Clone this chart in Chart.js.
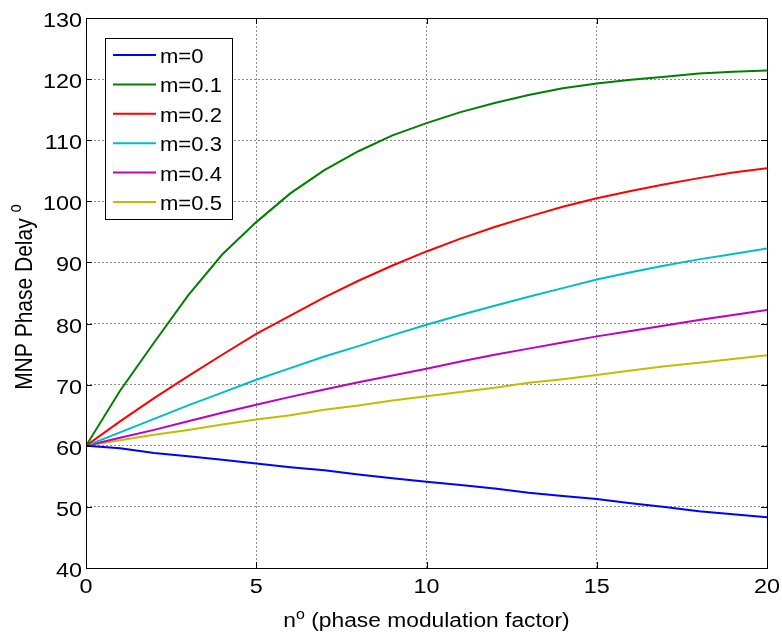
<!DOCTYPE html>
<html>
<head>
<meta charset="utf-8">
<script src="https://cdn.jsdelivr.net/npm/chart.js@4.4.1/dist/chart.umd.min.js"></script>
<style>
  html, body { margin: 0; padding: 0; background: #fff; }
  #wrap { width: 782px; height: 637px; }
</style>
</head>
<body>
<div id="wrap"><canvas id="phaseChart" width="782" height="637"></canvas></div>
<script>
// Atraso de fase MNP em função do fator de modulação n, para vários m
const nValues = [0, 1, 2, 3, 4, 5, 6, 7, 8, 9, 10, 11, 12, 13, 14, 15, 16, 17, 18, 19, 20];

const m00 = [60, 59.6, 58.8, 58.3, 57.7, 57.1, 56.5, 56.0, 55.3, 54.7, 54.1, 53.6, 53.0, 52.3, 51.8, 51.3, 50.6, 50.0, 49.3, 48.8, 48.3];
const m01 = [60, 69.0, 76.9, 84.6, 91.3, 96.6, 101.3, 105.1, 108.2, 110.8, 112.8, 114.6, 116.1, 117.4, 118.5, 119.3, 119.9, 120.4, 120.9, 121.2, 121.4];
const m02 = [60, 64.0, 67.8, 71.4, 74.9, 78.3, 81.3, 84.3, 87.0, 89.5, 91.8, 93.9, 95.8, 97.5, 99.1, 100.5, 101.7, 102.8, 103.8, 104.7, 105.4];
const m03 = [60, 62.2, 64.4, 66.6, 68.7, 70.8, 72.7, 74.6, 76.3, 78.1, 79.8, 81.4, 82.9, 84.4, 85.8, 87.2, 88.4, 89.5, 90.5, 91.4, 92.3];
const m04 = [60, 61.3, 62.6, 64.0, 65.4, 66.7, 68.0, 69.2, 70.4, 71.5, 72.6, 73.8, 74.9, 75.9, 76.9, 77.9, 78.8, 79.7, 80.6, 81.4, 82.2];
const m05 = [60, 60.9, 61.8, 62.6, 63.5, 64.3, 65.0, 65.9, 66.6, 67.4, 68.1, 68.8, 69.5, 70.3, 70.9, 71.6, 72.3, 73.0, 73.6, 74.2, 74.8];

const seriesLabels = ['m=0', 'm=0.1', 'm=0.2', 'm=0.3', 'm=0.4', 'm=0.5'];
const seriesValues = [m00, m01, m02, m03, m04, m05];
const seriesColors = ['#0000ff', '#008000', '#ff0000', '#00bfbf', '#bf00bf', '#bfbf00'];

const xTicks = [0, 5, 10, 15, 20];
const yTicks = [40, 50, 60, 70, 80, 90, 100, 110, 120, 130];

const FONT = 'Liberation Sans, Arial, sans-serif';

// texto com esticamento horizontal (a fonte da figura é mais larga que a Arial)
function wideText(ctx, str, x, y, size, stretch, align) {
  ctx.save();
  ctx.font = size + 'px ' + FONT;
  const w = ctx.measureText(str).width * stretch;
  let x0 = x;
  if (align === 'right') x0 = x - w;
  else if (align === 'center') x0 = x - w / 2;
  ctx.translate(x0, y);
  ctx.scale(stretch, 1);
  ctx.textAlign = 'left';
  ctx.fillText(str, 0, 0);
  ctx.restore();
  return w;
}

// partes de texto com sobrescrito, centradas em cx
function drawParts(ctx, parts, cx, baseline, stretch) {
  let total = 0;
  parts.forEach(p => { ctx.font = p[1] + 'px ' + FONT; total += ctx.measureText(p[0]).width * stretch; });
  let x = cx - total / 2;
  parts.forEach(p => {
    x += wideText(ctx, p[0], x, baseline + p[2], p[1], stretch, 'left');
  });
}

// moldura preta, marcas internas, rótulos, títulos dos eixos e legenda
const matlabAxes = {
  id: 'matlabAxes',
  afterDraw(chart) {
    const ctx = chart.ctx;
    const a = chart.chartArea;
    const xs = chart.scales.x, ys = chart.scales.y;
    ctx.save();
    ctx.strokeStyle = '#000';
    ctx.lineWidth = 1;
    ctx.setLineDash([]);
    ctx.strokeRect(Math.round(a.left) + 0.5, Math.round(a.top) + 0.5,
      Math.round(a.right - a.left), Math.round(a.bottom - a.top));

    // marcas dos ticks para dentro, nos quatro lados
    ctx.beginPath();
    xTicks.forEach(v => {
      const px = Math.round(xs.getPixelForValue(v)) + 0.5;
      ctx.moveTo(px, a.bottom); ctx.lineTo(px, a.bottom - 6);
      ctx.moveTo(px, a.top); ctx.lineTo(px, a.top + 6);
    });
    yTicks.forEach(v => {
      const py = Math.round(ys.getPixelForValue(v)) + 0.5;
      ctx.moveTo(a.left, py); ctx.lineTo(a.left + 6, py);
      ctx.moveTo(a.right, py); ctx.lineTo(a.right - 6, py);
    });
    ctx.stroke();

    // rótulos dos ticks
    ctx.fillStyle = '#000';
    ctx.textBaseline = 'alphabetic';
    xTicks.forEach(v => {
      wideText(ctx, String(v), xs.getPixelForValue(v), a.bottom + 25, 20, 1.17, 'center');
    });
    yTicks.forEach(v => {
      wideText(ctx, String(v), a.left - 4, ys.getPixelForValue(v) + 9, 20, 1.17, 'right');
    });

    // título do eixo x com "o" sobrescrito
    drawParts(ctx, [['n', 20, 0], ['o', 14, -8], [' (phase modulation factor)', 20, 0]],
      (a.left + a.right) / 2, 627, 1.14);

    // título do eixo y, girado; a espessura das letras segue o mesmo esticamento horizontal
    ctx.save();
    ctx.translate(32, 297);
    ctx.rotate(-Math.PI / 2);
    ctx.scale(1, 1.17);
    drawParts(ctx, [['MNP Phase Delay ', 21, 0], ['o', 15, -9]], 0, 0, 1);
    ctx.restore();

    // legenda
    const lx = 105, ly = 38, lw = 127, lh = 181;
    ctx.fillStyle = '#fff';
    ctx.fillRect(lx, ly, lw, lh);
    ctx.strokeStyle = '#000';
    ctx.lineWidth = 1;
    ctx.strokeRect(lx + 0.5, ly + 0.5, lw, lh);
    chart.data.datasets.forEach((ds, i) => {
      const cy = 55 + i * 29.4;
      ctx.strokeStyle = ds.borderColor;
      ctx.lineWidth = 2;
      ctx.beginPath();
      ctx.moveTo(113, cy); ctx.lineTo(156, cy);
      ctx.stroke();
      ctx.fillStyle = '#000';
      wideText(ctx, ds.label, 160, cy + 8, 21, 1.05, 'left');
    });
    ctx.restore();
  }
};

new Chart(document.getElementById('phaseChart').getContext('2d'), {
  type: 'line',
  data: {
    datasets: seriesLabels.map((label, i) => ({
      label: label,
      data: nValues.map((n, k) => ({ x: n, y: seriesValues[i][k] })),
      borderColor: seriesColors[i],
      backgroundColor: seriesColors[i],
      borderWidth: 2,
      pointRadius: 0,
      tension: 0,
      fill: false
    }))
  },
  options: {
    responsive: false,
    animation: false,
    layout: { padding: { top: 18, right: 15, left: 0, bottom: 0 } },
    plugins: { legend: { display: false }, tooltip: { enabled: false } },
    scales: {
      x: {
        type: 'linear', min: 0, max: 20,
        afterBuildTicks: s => { s.ticks = xTicks.map(v => ({ value: v })); },
        afterFit: s => { s.height = 69; s.paddingLeft = 0; s.paddingRight = 0; },
        grid: { color: '#8c8c8c', lineWidth: 1, drawTicks: false, tickLength: 0 },
        border: { display: false, dash: [2, 2] },
        ticks: { display: false }
      },
      y: {
        type: 'linear', min: 40, max: 130,
        afterBuildTicks: s => { s.ticks = yTicks.map(v => ({ value: v })); },
        afterFit: s => { s.width = 86; s.paddingTop = 0; s.paddingBottom = 0; },
        grid: { color: '#8c8c8c', lineWidth: 1, drawTicks: false, tickLength: 0 },
        border: { display: false, dash: [2, 2] },
        ticks: { display: false }
      }
    }
  },
  plugins: [matlabAxes]
});
</script>
</body>
</html>
